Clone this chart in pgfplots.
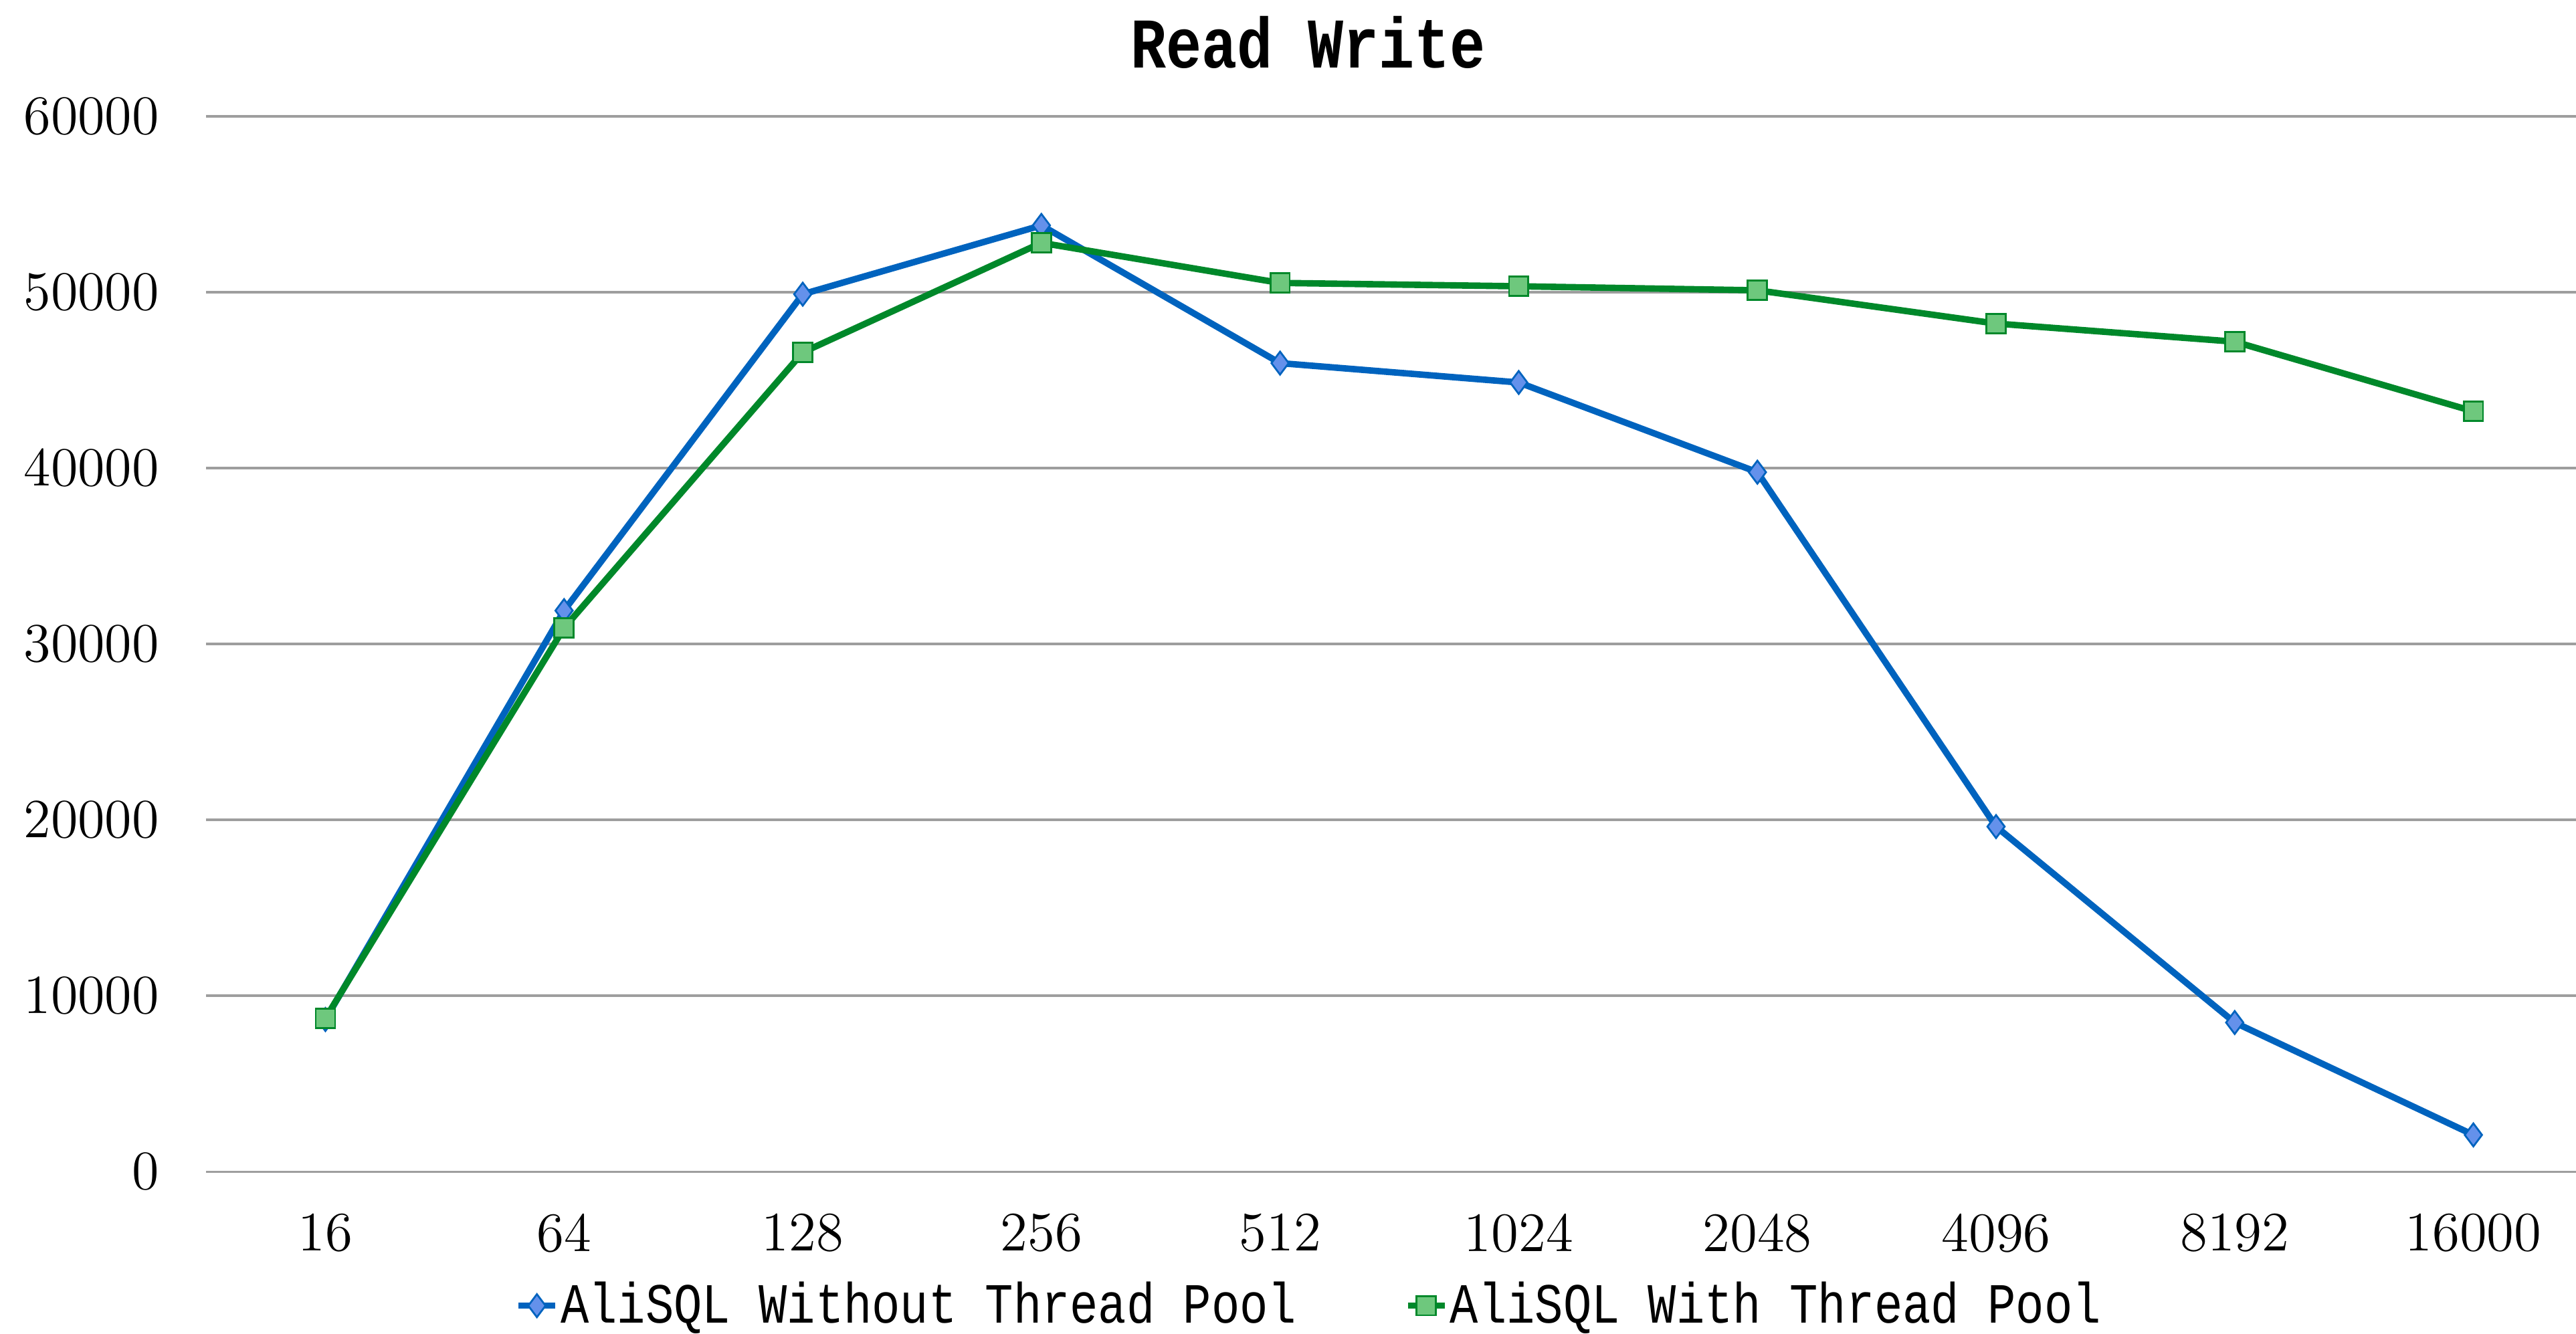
\documentclass[border=0pt]{standalone}
\usepackage{fontspec}
\usepackage{pgfplots}
\pgfplotsset{compat=1.18}
\newfontfamily\monoA[FakeStretch=0.83]{Liberation Mono}
\definecolor{lblue}{RGB}{0,99,190}
\definecolor{mblue}{RGB}{100,145,235}
\definecolor{lgreen}{RGB}{0,136,42}
\definecolor{mgreen}{RGB}{110,200,125}
\begin{document}
\begin{tikzpicture}
\path[use as bounding box] (-44.8pt,-35.3pt) rectangle (515.2pt,254.8pt);
\begin{axis}[
  at={(0,0)}, anchor=south west, scale only axis,
  width=515.2pt, height=229.5pt,
  xmin=-0.5, xmax=9.43, ymin=0, ymax=60000,
  ytick={0,10000,20000,30000,40000,50000,60000},
  xtick={0,...,9},
  xticklabels={16,64,128,256,512,1024,2048,4096,8192,16000},
  scaled y ticks=false,
  /pgf/number format/1000 sep={},
  axis line style={draw=none},
  major tick length=0pt,
  ymajorgrids,
  grid style={color=black!38, line width=0.5pt},
  tick label style={font=\fontsize{12.1}{14}\selectfont},
  yticklabel style={anchor=east, inner sep=0pt, xshift=-10pt},
  xticklabel style={anchor=north, inner sep=0pt, yshift=-9pt},
  title={\monoA\bfseries\fontsize{15.5}{18}\selectfont Read Write},
  title style={at={(0.465,1)}, anchor=base, yshift=4.5pt, inner sep=0pt},
  legend columns=2,
  legend style={draw=none, fill=none, at={(0.4655,-0.127)}, anchor=center,
    font=\monoA\fontsize{12.35}{14}\selectfont,
    /tikz/every even column/.append style={column sep=23pt},
    nodes={inner sep=0.5pt}},
  legend image code/.code={\draw[mark repeat=2, mark phase=2, #1] plot coordinates {(0pt,0pt) (4pt,0pt) (8pt,0pt)};},
]
\addplot[color=lblue, line width=1.4pt, mark=diamond*, mark size=2.5pt,
  mark options={solid, fill=mblue, draw=lblue, line width=0.4pt}]
  coordinates {(0,8650) (1,31900) (2,49890) (3,53800) (4,45970) (5,44870) (6,39770) (7,19620) (8,8480) (9,2090)};
\addlegendentry{AliSQL Without Thread Pool}
\addplot[color=lgreen, line width=1.4pt, mark=square*, mark size=2.1pt,
  mark options={solid, fill=mgreen, draw=lgreen, line width=0.4pt}]
  coordinates {(0,8720) (1,30910) (2,46580) (3,52810) (4,50530) (5,50340) (6,50110) (7,48220) (8,47190) (9,43230)};
\addlegendentry{AliSQL With Thread Pool}
\end{axis}
\end{tikzpicture}
\end{document}
